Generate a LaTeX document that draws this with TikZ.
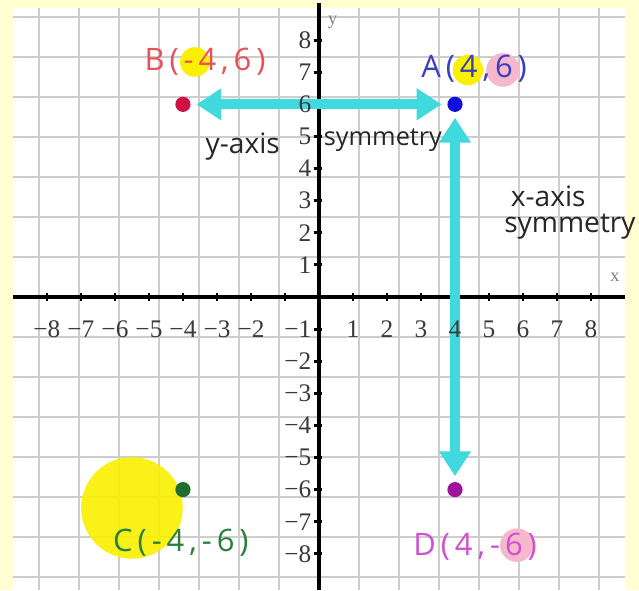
\documentclass[tikz,border=0pt]{standalone}
\usepackage{fontspec}
\setmainfont{Liberation Serif}
\newfontfamily\handfont{Open Sans}
\newfontfamily\handwide{Open Sans}[LetterSpace=16]
\usepackage{xcolor}
\definecolor{paper}{HTML}{FFFFD2}
\definecolor{gridgray}{HTML}{CDCDCD}
\definecolor{numgray}{HTML}{3A3A3A}
\definecolor{symcyan}{HTML}{40D9DD}
\definecolor{hlyellow}{HTML}{FAF000}
\definecolor{hlpink}{HTML}{F6B8CC}
\definecolor{ptred}{HTML}{CC1144}
\definecolor{ptblue}{HTML}{1010DD}
\definecolor{ptgreen}{HTML}{1F6E30}
\definecolor{ptpurple}{HTML}{A0149B}
\definecolor{txtred}{HTML}{E8505A}
\definecolor{txtblue}{HTML}{3A3FC0}
\definecolor{txtgreen}{HTML}{2A7F3A}
\definecolor{txtpink}{HTML}{D050D0}
\usepackage{tikz}
\usetikzlibrary{arrows.meta}

\begin{document}
\begin{tikzpicture}[
    x=0.85cm, y=0.8025cm,
    font=\fontsize{18}{20}\selectfont,
    axisline/.style={line width=3.2pt, draw=black},
    tickmark/.style={line width=2pt, draw=black},
    axisnum/.style={text=numgray, inner sep=0.5pt},
    pt/.style={circle, minimum size=0.38cm, inner sep=0pt},
    coordlabel/.style={font=\handwide\fontsize{22}{24}\selectfont, inner sep=0pt},
    note/.style={font=\handfont\fontsize{20}{22}\selectfont, text=black!85, inner sep=0pt},
    symarrow/.style={line width=7pt, draw=symcyan,
        {Triangle[length=0.62cm, width=0.76cm]}-{Triangle[length=0.62cm, width=0.76cm]},
        shorten <=0.14cm, shorten >=0.14cm}
]

% ── Paper and Grid ──
\useasboundingbox[fill=paper] (-9.38,-9.13) rectangle (9.41,9.25);
\fill[white] (-9,-9.13) rectangle (9,9);
\draw[gridgray, line width=1.2pt] (-9,-9.13) grid (9,9);

% ── Highlights ──
\fill[hlyellow] (-3.65,7.32) circle (0.37cm);
\fill[hlyellow] (4.38,7.07) circle (0.38cm);
\fill[hlpink] (5.41,7.07) circle (0.42cm);
\fill[hlpink] (5.82,-7.73) circle (0.42cm);
\fill[hlyellow, opacity=0.9] (-5.5,-6.57) circle (1.27cm);

% ── Axes ──
\draw[axisline] (-9,0) -- (9,0);
\draw[axisline] (0,-9.13) -- (0,9.15);
\foreach \i in {-8,...,8} {
  \draw[tickmark] (\i,-0.12) -- (\i,0.12);
  \draw[tickmark] (-0.14,\i) -- (0.1,\i);
}
\node[text=gray, font=\fontsize{13}{14}\selectfont] (ylab) at (0.4,8.57) {y};
\node[text=gray, font=\fontsize{13}{14}\selectfont] (xlab) at (8.7,0.6) {x};

% ── Symmetry Arrows ──
\node[pt, fill=ptblue] (A) at (4,6) {};
\node[pt, fill=ptred] (B) at (-4,6) {};
\node[pt, fill=ptgreen] (C) at (-4,-6) {};
\node[pt, fill=ptpurple] (D) at (4,-6) {};
\draw[symarrow] (B) -- (A);
\draw[symarrow] (A) -- (D);

% ── Axis Numbers ──
\foreach \i in {1,...,8} {
  \node[axisnum] (xp\i) at (\i,-1) {\i};
  \node[axisnum, anchor=east] (yp\i) at (-0.2,\i) {\i};
  \node[axisnum, anchor=east] (ym\i) at (-0.2,-\i) {−\i};
}
\foreach \i in {2,...,8}
  \node[axisnum] (xm\i) at (-\i,-1) {−\i};

% ── Point Labels ──
\node[coordlabel, text=txtred] (labB) at (-3.35,7.32) {B(-4,6)};
\node[coordlabel, text=txtblue] (labA) at (4.56,7.1) {A(4,6)};
\node[coordlabel, text=txtgreen] (labC) at (-4.06,-7.66) {C(-4,-6)};
\node[coordlabel, text=txtpink] (labD) at (4.59,-7.79) {D(4,-6)};

% ── Notes ──
\node[note] (ynote) at (-2.24,4.67) {y-axis};
\node[note, font=\handfont\fontsize{18}{20}\selectfont] (ysym) at (1.88,4.89) {symmetry};
\node[note] (xnote) at (6.74,3.12) {x-axis};
\node[note] (xsym) at (7.38,2.18) {symmetry};
\end{tikzpicture}
\end{document}
